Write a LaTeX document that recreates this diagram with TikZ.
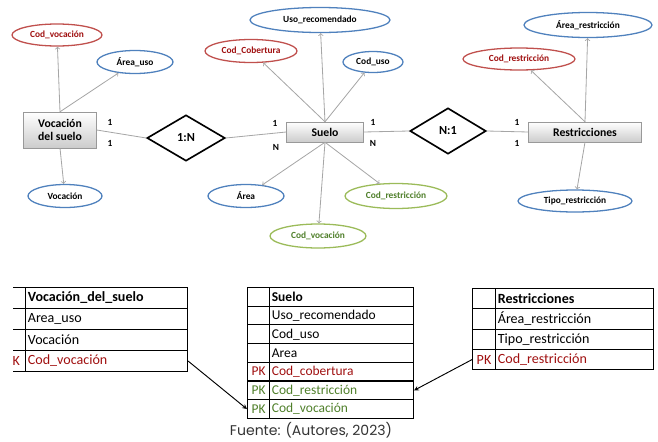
\documentclass[tikz,border=0pt]{standalone}
\usepackage{fontspec}
\setmainfont{Carlito}
\newfontfamily\captfont{Poppins}
\usetikzlibrary{shapes.geometric}

\definecolor{attred}{HTML}{C0504D}
\definecolor{attblue}{HTML}{4F81BD}
\definecolor{attgreen}{HTML}{9BBB59}
\definecolor{txtred}{HTML}{A01010}
\definecolor{txtgreen}{HTML}{4F7F2A}

\tikzset{
  entity/.style={draw=gray!80, top color=white, bottom color=gray!40, inner sep=1pt,
    font=\bfseries\fontsize{10}{11}\selectfont, align=center},
  relation/.style={diamond, draw, line width=1.4pt, fill=white, inner sep=0pt,
    font=\bfseries\fontsize{10.5}{11}\selectfont},
  attr/.style={ellipse, line width=1.1pt, inner sep=0pt, fill=white,
    font=\bfseries\fontsize{8}{9}\selectfont},
  redattr/.style={attr, draw=attred, text=txtred},
  blueattr/.style={attr, draw=attblue, text=black},
  greenattr/.style={attr, draw=attgreen, text=txtgreen},
  link/.style={draw=gray!70, line width=0.7pt},
  card/.style={font=\bfseries\fontsize{8}{9}\selectfont},
  cell/.style={draw, line width=0.9pt, anchor=north west, inner sep=2pt},
  field/.style={cell, align=left},
  keycell/.style={cell, align=center}
}

\begin{document}
\begin{tikzpicture}[x=0.03cm, y=-0.03cm]
  \useasboundingbox (0,0) rectangle (658,442);

  %% Entidades y relaciones
  \node[entity, minimum width=2.19cm, minimum height=1.08cm] (vsuelo) at (60,130) {Vocación\\del suelo};
  \node[entity, minimum width=2.31cm, minimum height=0.6cm] (suelo) at (325,132) {Suelo};
  \node[entity, minimum width=3.39cm, minimum height=0.6cm] (restr) at (585,132) {Restricciones};
  \node[relation, minimum width=2.34cm, minimum height=1.38cm] (unoN) at (186,138) {1:N};
  \node[relation, minimum width=2.28cm, minimum height=1.38cm] (Nuno) at (448,131) {N:1};

  \draw[link] (vsuelo.east) -- (unoN.west);
  \draw[link] (unoN.east) -- (suelo.west);
  \draw[link] (suelo.east) -- (Nuno.west);
  \draw[link] (Nuno.east) -- (restr.west);

  \node[card] (c1) at (110,122) {1};
  \node[card] (c2) at (110,143) {1};
  \node[card] (c3) at (275,123) {1};
  \node[card] (c4) at (276,147) {N};
  \node[card] (c5) at (373,122) {1};
  \node[card] (c6) at (373,143) {N};
  \node[card] (c7) at (517,122) {1};
  \node[card] (c8) at (517,143) {1};

  %% Atributos de Vocacion del suelo
  \node[redattr, minimum width=2.7cm, minimum height=0.66cm] (codvoc) at (57,35) {Cod\_vocación};
  \node[blueattr, minimum width=2.28cm, minimum height=0.69cm] (areauso) at (135,62) {Área\_uso};
  \node[blueattr, minimum width=2.22cm, minimum height=0.69cm] (vocacion) at (65,196) {Vocación};
  \draw[link,->] (vsuelo.north) -- (codvoc);
  \draw[link,->] (vsuelo.north) -- (areauso);
  \draw[link,->] (vsuelo.south) -- (vocacion);

  %% Atributos de Suelo
  \node[blueattr, minimum width=4.2cm, minimum height=0.75cm] (usorec) at (320,20) {Uso\_recomendado};
  \node[redattr, minimum width=2.76cm, minimum height=0.69cm] (codcob) at (251,51) {Cod\_Cobertura};
  \node[blueattr, minimum width=1.8cm, minimum height=0.63cm] (coduso) at (373,62) {Cod\_uso};
  \node[blueattr, minimum width=2.28cm, minimum height=0.69cm] (area) at (246,196) {Área};
  \node[greenattr, minimum width=3.06cm, minimum height=0.75cm] (codres) at (396,196) {Cod\_restricción};
  \node[greenattr, minimum width=2.88cm, minimum height=0.72cm] (codvoc2) at (318,236) {Cod\_vocación};
  \draw[link,->] (suelo.north) -- (codcob);
  \draw[link,->] (suelo.north) -- (usorec);
  \draw[link,->] (suelo.north) -- (coduso);
  \draw[link,->] (suelo.south) -- (area);
  \draw[link,->] (suelo.south) -- (codvoc2);
  \draw[link,->] (suelo.south) -- (codres);

  %% Atributos de Restricciones
  \node[redattr, minimum width=3.36cm, minimum height=0.66cm] (codres2) at (519,59) {Cod\_restricción};
  \node[blueattr, minimum width=3.84cm, minimum height=0.75cm] (arearest) at (588,25) {Área\_restricción};
  \node[blueattr, minimum width=3.42cm, minimum height=0.66cm] (tiporest) at (575,201) {Tipo\_restricción};
  \draw[link,->] (restr.north) -- (codres2);
  \draw[link,->] (restr.north) -- (arearest);
  \draw[link,->] (restr.south) -- (tiporest);

  %% Tabla Vocacion_del_suelo (cortada a la izquierda)
  \begin{scope}
    \clip (13,280) rectangle (200,380);
    \foreach \i/\k/\txt/\col in {1//\textbf{Vocación\_del\_suelo}/black,2//Area\_uso/black,
        3//Vocación/black,4/PK/Cod\_vocación/txtred} {
      \node[keycell, minimum width=0.78cm, minimum height=0.63cm, text=\col,
        font=\fontsize{12}{13}\selectfont] (vk\i) at (-1,{287+21*(\i-1)}) {\k};
      \node[field, text width=4.72cm, minimum height=0.63cm, text=\col,
        font=\fontsize{12}{13}\selectfont] (vf\i) at (25,{287+21*(\i-1)}) {\txt};
    }
  \end{scope}

  %% Tabla Suelo
  \foreach \i/\k/\txt/\col in {1//\textbf{Suelo}/black,2//Uso\_recomendado/black,3//Cod\_uso/black,
      4//Area/black,5/PK/Cod\_cobertura/txtred,6/PK/Cod\_restricción/txtgreen,7/PK/Cod\_vocación/txtgreen} {
    \node[keycell, minimum width=0.66cm, minimum height=0.56cm, text=\col,
      font=\fontsize{11.5}{12}\selectfont] (sk\i) at (247,{287+18.7*(\i-1)}) {\k};
    \node[field, text width=4.18cm, minimum height=0.56cm, text=\col,
      font=\fontsize{11.5}{12}\selectfont] (sf\i) at (269,{287+18.7*(\i-1)}) {\txt};
  }

  %% Tabla Restricciones
  \foreach \i/\k/\txt/\col in {1//\textbf{Restricciones}/black,2//Área\_restricción/black,
      3//Tipo\_restricción/black,4/PK/Cod\_restricción/txtred} {
    \node[keycell, minimum width=0.69cm, minimum height=0.61cm, text=\col,
      font=\fontsize{12}{13}\selectfont] (rk\i) at (472,{288+20.3*(\i-1)}) {\k};
    \node[field, text width=4.6cm, minimum height=0.61cm, text=\col,
      font=\fontsize{12}{13}\selectfont] (rf\i) at (495,{288+20.3*(\i-1)}) {\txt};
  }

  \draw[line width=0.8pt,-stealth] (vf4.east) -- (sk7.west);
  \draw[line width=0.8pt,-stealth] (rk4.west) -- (sf6.east);

  \node[font=\captfont\fontsize{12}{14}\selectfont, text=black!80] (fuente) at (311,430) {Fuente: (Autores, 2023)};
\end{tikzpicture}
\end{document}
